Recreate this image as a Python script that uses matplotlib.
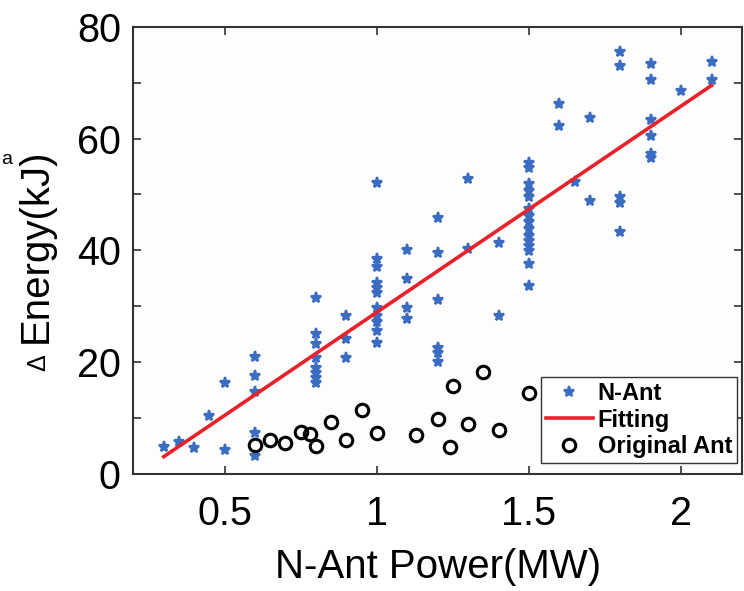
import matplotlib
matplotlib.use("Agg")
import matplotlib.pyplot as plt
import numpy as np

plt.rcParams['font.family'] = ['Liberation Sans', 'DejaVu Sans']

# ---- data ----
nant_x = [0.3, 0.35, 0.4, 0.45,
          0.5, 0.5,
          0.6, 0.6, 0.6, 0.6, 0.6,
          0.8, 0.8, 0.8, 0.8, 0.8, 0.8, 0.8, 0.8,
          0.9, 0.9, 0.9,
          1.0, 1.0, 1.0, 1.0, 1.0, 1.0, 1.0, 1.0, 1.0, 1.0, 1.0,
          1.1, 1.1, 1.1, 1.1,
          1.2, 1.2, 1.2, 1.2, 1.2, 1.2,
          1.3, 1.3,
          1.4, 1.4,
          1.5, 1.5, 1.5, 1.5, 1.5, 1.5, 1.5, 1.5, 1.5, 1.5, 1.5, 1.5, 1.5, 1.5, 1.5,
          1.6, 1.6,
          1.65,
          1.7, 1.7,
          1.8, 1.8, 1.8, 1.8, 1.8,
          1.9, 1.9, 1.9, 1.9, 1.9, 1.9,
          2.0,
          2.1, 2.1]
nant_y = [4.8, 5.8, 4.7, 10.3,
          16.2, 4.3,
          20.9, 17.5, 14.6, 7.3, 3.3,
          31.4, 25.0, 23.2, 20.8, 19.0, 18.1, 17.2, 16.3,
          28.2, 24.2, 20.8,
          52.1, 38.4, 37.1, 34.2, 33.3, 32.4, 29.7, 28.2, 27.1, 25.5, 23.5,
          40.1, 34.8, 29.7, 27.8,
          45.8, 39.5, 31.1, 22.6, 21.7, 20.0,
          52.8, 40.2,
          41.3, 28.2,
          55.6, 54.8, 51.9, 50.7, 49.5, 47.4, 46.2, 45.0, 43.8, 42.6, 41.7, 40.8, 39.9, 37.5, 33.6,
          66.2, 62.2,
          52.3,
          63.7, 48.9,
          75.4, 73.0, 49.5, 48.4, 43.2,
          73.4, 70.4, 63.4, 60.4, 57.3, 56.5,
          68.5,
          73.6, 70.4]

orig_x = [0.6, 0.65, 0.7, 0.75, 0.78, 0.8, 0.85, 0.9, 0.95, 1.0,
          1.13, 1.2, 1.24, 1.25, 1.3, 1.35, 1.4, 1.5]
orig_y = [5.2, 6.1, 5.6, 7.5, 7.1, 5.0, 9.3, 6.0, 11.4, 7.3,
          6.9, 9.9, 4.9, 15.7, 9.0, 18.3, 7.8, 14.5]

fit_x = [0.3, 2.1]
fit_y = [3.1, 69.5]

xticks = [0.5, 1, 1.5, 2]
xtick_labels = ['0.5', '1', '1.5', '2']
yticks = [0, 20, 40, 60, 80]
yticks_minor = [10, 30, 50, 70]

W, H = 744, 591
fig = plt.figure(figsize=(W / 100, H / 100), dpi=100)
fig.patch.set_facecolor('white')

left, right, top, bottom = 133.3, 742.0, 26.7, 474.0
ax = fig.add_axes([left / W, 1 - bottom / H, (right - left) / W, (bottom - top) / H])
ax.set_facecolor('#fdfdfd')

star_col = '#3a6dc2'
ax.plot(nant_x, nant_y, linestyle='none', marker='*', markersize=8,
        color=star_col, markeredgecolor=star_col, markeredgewidth=1.6,
        label='N-Ant', zorder=2)
ax.plot(fit_x, fit_y, color='#e8212b', linewidth=2.6, label='Fitting', zorder=3)
ax.plot(orig_x, orig_y, linestyle='none', marker='o', markersize=9,
        markerfacecolor='none', markeredgecolor='black', markeredgewidth=2.2,
        label='Original Ant', zorder=4)

ax.set_xlim(0.2, 2.2)
ax.set_ylim(0, 80)
ax.set_xticks(xticks)
ax.set_xticklabels(xtick_labels)
ax.set_yticks(yticks)
ax.set_yticks(yticks_minor, minor=True)

spine_col = '#333333'
for s in ax.spines.values():
    s.set_color(spine_col)
    s.set_linewidth(1.5)

ax.tick_params(which='both', direction='in', length=6, width=1.2, color=spine_col,
               top=True, right=True, labelsize=28.5, labelcolor='black')
ax.tick_params(axis='x', which='both', pad=15)
ax.tick_params(axis='y', which='both', pad=9)

ax.set_xlabel('N-Ant Power(MW)', fontsize=29, labelpad=11)

# y label: small delta + Energy(kJ)
fig.text(36 / W, 1 - 343 / H, 'Energy(kJ)', rotation=90, fontsize=29,
         ha='center', va='bottom')
fig.text(38 / W, 1 - 371 / H, '\u0394', rotation=90, fontsize=18,
         ha='center', va='bottom')

# small panel letter at the left edge
fig.text(1 / W, 1 - 160 / H, 'a', fontsize=14, ha='left', va='center')

leg = ax.legend(loc='lower right',
                bbox_to_anchor=((737 - left) / (right - left), (bottom - 463) / (bottom - top)),
                prop={'weight': 'bold', 'size': 17}, frameon=True, fancybox=False,
                framealpha=1, edgecolor='#333333', handlelength=2.0, handletextpad=0.2,
                borderpad=0.2, labelspacing=0.15, borderaxespad=0)
leg.get_frame().set_linewidth(1.0)

fig.savefig('out.png', dpi=100)
